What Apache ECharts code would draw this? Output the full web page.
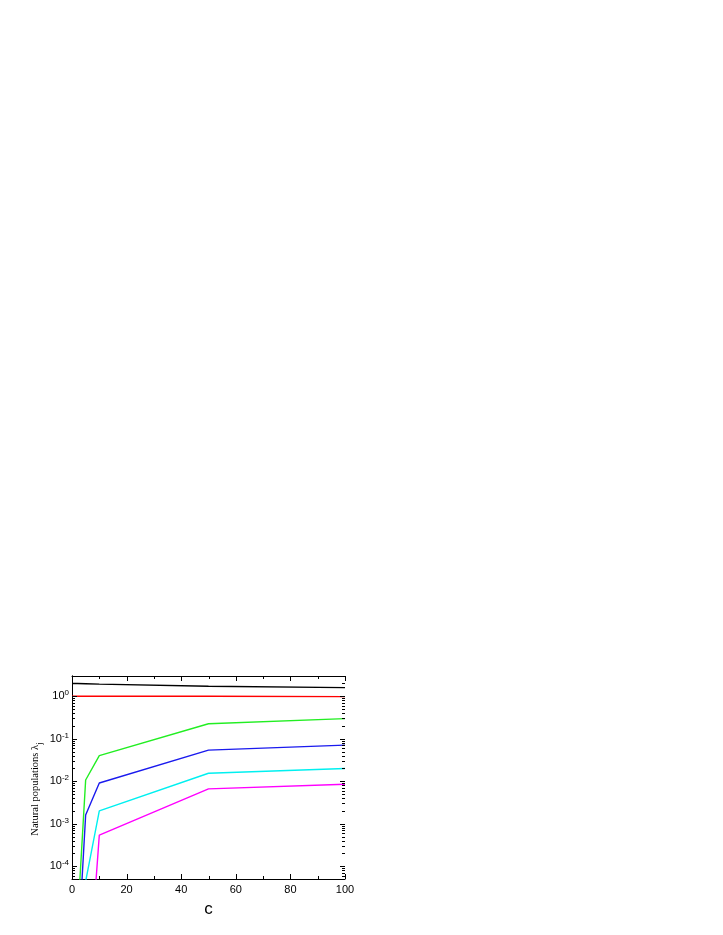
<!DOCTYPE html>
<html><head><meta charset="utf-8">
<script src="https://cdn.jsdelivr.net/npm/echarts@6/dist/echarts.min.js"></script>
<style>html,body{margin:0;padding:0;background:#fff}#c{width:723px;height:935px}</style>
</head><body><div id="c"></div>
<script>
const cValues = [0, 2, 5, 10, 50, 100];
const lambda1 = [2.0, 1.99, 1.97, 1.93, 1.72, 1.6];
const lambda2 = [1.0, 1.0, 1.0, 1.0, 1.0, 0.98];
const lambda3 = [null, 5e-6, 0.0107, 0.040, 0.226, 0.297];
const lambda4 = [null, 6e-7, 0.0016, 0.0091, 0.054, 0.071];
const lambda5 = [null, 1e-8, 4.4e-5, 0.0020, 0.0154, 0.0199];
const lambda6 = [null, 1e-10, 2e-8, 5.4e-4, 0.0066, 0.0085];
const seriesColors = ['#000000', '#ff0000', '#22ee22', '#1a1aee', '#00f0f0', '#ff00ff'];
const allSeries = [lambda1, lambda2, lambda3, lambda4, lambda5, lambda6];
const xMin = 0, xMax = 100, xInterval = 20;
const xMajorTicks = [0, 20, 40, 60, 80, 100];
const xMinorTicks = [10, 30, 50, 70, 90];
const yMin = 5e-5, yMax = 3;
const yMajorTicks = [1e-4, 1e-3, 1e-2, 1e-1, 1];
const yDecades = [-5, -4, -3, -2, -1, 0];
const yMinorMultipliers = [2, 3, 4, 5, 6, 7, 8, 9];

const yMinorTicks = [];
yDecades.forEach(e => yMinorMultipliers.forEach(m => {
  const v = m * Math.pow(10, e);
  if (v >= yMin && v <= yMax) yMinorTicks.push(v);
}));

function pairs(vals) {
  return cValues.map((c, i) => [c, vals[i] == null ? '-' : vals[i]]);
}
function logLabel(v) {
  const l = Math.log10(v);
  const e = Math.round(l);
  if (Math.abs(l - e) > 1e-6) return '';
  return '10{sup|' + e + '}';
}
const MAJOR_LEN = 5, MINOR_LEN = 3;
const chart = echarts.init(document.getElementById('c'));
const labelFont = {color: '#000', fontFamily: 'Liberation Sans, Arial', fontSize: 11};
const lineSeries = allSeries.map((vals, i) => ({
  type: 'line', data: pairs(vals), showSymbol: false, symbol: 'none',
  xAxisIndex: 0, yAxisIndex: 0, clip: true, connectNulls: false,
  lineStyle: {color: seriesColors[i], width: 1.4}, z: 10 - i
}));
function tickLine(x1, y1, x2, y2) {
  return {type: 'line', shape: {x1, y1, x2, y2}, style: {stroke: '#000', lineWidth: 1}};
}
function yTickSeries(vals, len) {
  return {
    type: 'custom', xAxisIndex: 0, yAxisIndex: 0, clip: false, silent: true, z: 20,
    data: vals.map(v => [xMin, v]),
    renderItem: (params, api) => {
      const v = api.value(1);
      const l = api.coord([xMin, v]);
      const r = api.coord([xMax, v]);
      const y = Math.round(l[1]) + 0.5;
      return {type: 'group', children: [
        tickLine(l[0], y, l[0] + len, y),
        tickLine(r[0], y, r[0] - len, y)
      ]};
    }
  };
}
function xTickSeries(vals, len) {
  return {
    type: 'custom', xAxisIndex: 0, yAxisIndex: 0, clip: false, silent: true, z: 20,
    data: vals.map(x => [x, yMin]),
    renderItem: (params, api) => {
      const x = api.value(0);
      const b = api.coord([x, yMin]);
      const t = api.coord([x, yMax]);
      const xx = Math.round(b[0]) + 0.5;
      return {type: 'group', children: [
        tickLine(xx, b[1], xx, b[1] - len),
        tickLine(xx, t[1], xx, t[1] + len)
      ]};
    }
  };
}
chart.setOption({
  animation: false,
  backgroundColor: '#fff',
  grid: {left: 72, right: 378, top: 676, bottom: 56, containLabel: false},
  xAxis: [{
    type: 'value', min: xMin, max: xMax, interval: xInterval,
    name: 'c', nameLocation: 'middle', nameGap: 22,
    nameTextStyle: {fontFamily: 'Liberation Sans, Arial', fontSize: 17, color: '#000'},
    axisLine: {lineStyle: {color: '#000', width: 1}},
    axisTick: {show: false},
    axisLabel: Object.assign({margin: 5, fontSize: 12}, labelFont),
    splitLine: {show: false}
  }, {
    type: 'value', position: 'top', min: xMin, max: xMax, interval: xInterval,
    axisLine: {show: true, lineStyle: {color: '#000', width: 1}},
    axisTick: {show: false},
    axisLabel: {show: false}, splitLine: {show: false}
  }],
  yAxis: [{
    type: 'log', logBase: 10, min: yMin, max: yMax,
    axisLine: {show: true, lineStyle: {color: '#000', width: 1}},
    axisTick: {show: false},
    axisLabel: Object.assign({margin: 3, formatter: logLabel,
      rich: {sup: {fontSize: 8, verticalAlign: 'top', padding: [0,0,6,0], fontFamily: 'Liberation Sans'}}}, labelFont),
    splitLine: {show: false}
  }, {
    type: 'log', logBase: 10, min: yMin, max: yMax, position: 'right',
    axisLine: {show: true, lineStyle: {color: '#000', width: 1}},
    axisTick: {show: false},
    axisLabel: {show: false}, splitLine: {show: false}
  }],
  graphic: [{
    type: 'text', x: 35, y: 789, rotation: Math.PI / 2,
    style: {
      text: 'Natural populations λ{sub|j}',
      font: '10.5px "Liberation Serif", "Times New Roman", serif',
      fill: '#000', align: 'center', verticalAlign: 'middle',
      rich: {sub: {font: '9px "Liberation Serif", serif', verticalAlign: 'bottom', padding: [0, 0, -4, 0]}}
    }
  }],
  series: lineSeries.concat([
    yTickSeries(yMajorTicks, MAJOR_LEN), yTickSeries(yMinorTicks, MINOR_LEN),
    xTickSeries(xMajorTicks, MAJOR_LEN), xTickSeries(xMinorTicks, MINOR_LEN)
  ])
});
</script></body></html>
